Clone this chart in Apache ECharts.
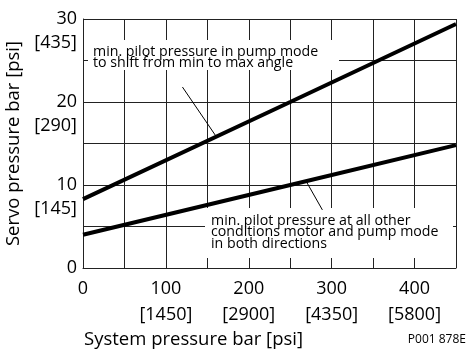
<!DOCTYPE html>
<html>
<head>
<meta charset="utf-8">
<script src="https://cdn.jsdelivr.net/npm/echarts@6/dist/echarts.min.js"></script>
<style>
  html, body { margin: 0; padding: 0; background: #fff; }
  #chart { width: 469px; height: 350px; }
</style>
</head>
<body>
<div id="chart"></div>
<script>
// system pressure (bar) where the lines were read
var sysPressure = [0, 250, 450];
// servo pressure (bar)
var pumpModeLine = [8.3, 20, 29.4];
var otherLine = [4, 10, 14.8];

// tick labels
var xBarLabels = { 0: '0', 100: '100', 200: '200', 300: '300', 400: '400' };
var xPsiLabels = { 0: ' ', 100: '[1450]', 200: '[2900]', 300: '[4350]', 400: '[5800]' };
var yBarLabels = { 0: '0', 10: '10', 20: '20', 30: '30' };
var yPsiLabels = { 0: ' ', 10: '[145]', 20: '[290]', 30: '[435]' };

// leader lines of the notes (data coords: [bar, bar])
var leaderPump = [[161, 15.8], [120, 21.8]];
var leaderOther = [[269.5, 10.4], [288.8, 7.0]];

var noteTop = 'min. pilot pressure in pump mode\nto shift from min to max angle';
var noteBottom = 'min. pilot pressure at all other\nconditions motor and pump mode\nin both directions';

var FONT = '"Open Sans", sans-serif';

var chart = echarts.init(document.getElementById('chart'));

function pairs(xs, ys) {
  return xs.map(function (x, i) { return [x, ys[i]]; });
}

var option = {
  animation: false,
  textStyle: { fontFamily: FONT, color: '#000' },
  grid: { left: 83, right: 13, top: 19, bottom: 82, containLabel: false, outerBoundsMode: 'none' },
  title: [
    {
      text: 'System pressure bar [psi]',
      left: 84, top: 330, padding: 0,
      textStyle: { fontFamily: FONT, fontSize: 18.5, fontWeight: 'normal', color: '#000' }
    },
    {
      text: 'P001 878E',
      right: 3, top: 334, padding: 0,
      textStyle: { fontFamily: FONT, fontSize: 12, fontWeight: 'normal', color: '#000' }
    }
  ],
  xAxis: {
    type: 'value', min: 0, max: 450, interval: 50,
    axisLine: { lineStyle: { color: '#222', width: 1 } },
    axisTick: { show: false },
    splitLine: { show: true, lineStyle: { color: '#222', width: 1 } },
    axisLabel: {
      fontSize: 18, color: '#000', lineHeight: 26, margin: 8,
      formatter: function (v) {
        if (xBarLabels[v] === undefined) return '';
        return xBarLabels[v] + '\n' + xPsiLabels[v];
      }
    }
  },
  yAxis: {
    type: 'value', min: 0, max: 30, interval: 5,
    name: 'Servo pressure bar [psi]',
    nameLocation: 'middle', nameGap: 46,
    nameTextStyle: { fontSize: 18.5, color: '#000' },
    axisLine: { show: true, lineStyle: { color: '#222', width: 1 } },
    axisTick: { show: false },
    splitLine: { show: true, lineStyle: { color: '#222', width: 1 } },
    axisLabel: {
      fontSize: 18, color: '#000', lineHeight: 24, margin: 6,
      formatter: function (v) {
        if (yBarLabels[v] === undefined) return '';
        // blank first line keeps the bar value centred on its tick
        return ' \n' + yBarLabels[v] + '\n' + yPsiLabels[v];
      }
    }
  },
  graphic: [
    { type: 'rect', z: 1, shape: { x: 88, y: 40, width: 251, height: 30 }, style: { fill: '#fff' } },
    { type: 'text', z: 1, x: 93, y: 46, style: { text: noteTop, font: '14.2px ' + FONT, lineHeight: 11.5, fill: '#000' } },
    { type: 'rect', z: 1, shape: { x: 205, y: 208, width: 248, height: 50 }, style: { fill: '#fff' } },
    { type: 'text', z: 1, x: 211, y: 215, style: { text: noteBottom, font: '14.2px ' + FONT, lineHeight: 11.5, fill: '#000' } }
  ],
  series: [
    {
      type: 'line', z: 3, symbol: 'none', silent: true,
      lineStyle: { color: '#000', width: 4 },
      data: pairs(sysPressure, pumpModeLine)
    },
    {
      type: 'line', z: 3, symbol: 'none', silent: true,
      lineStyle: { color: '#000', width: 4 },
      data: pairs(sysPressure, otherLine)
    },
    {
      type: 'line', z: 3, symbol: 'none', silent: true,
      lineStyle: { color: '#000', width: 1 },
      data: leaderPump
    },
    {
      type: 'line', z: 3, symbol: 'none', silent: true,
      lineStyle: { color: '#000', width: 1 },
      data: leaderOther
    }
  ]
};

chart.setOption(option);
</script>
</body>
</html>
